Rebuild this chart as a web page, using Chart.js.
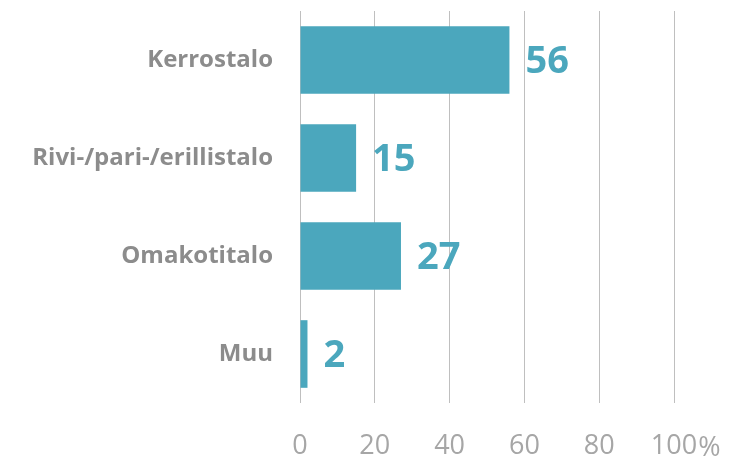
<!DOCTYPE html>
<html>
<head>
<meta charset="utf-8">
<script src="https://cdn.jsdelivr.net/npm/chart.js@4"></script>
<style>
    html, body { margin: 0; padding: 0; background: #fff; }
    #wrap { width: 730px; height: 462px; }
</style>
</head>
<body>
<div id="wrap"><canvas id="grafico"></canvas></div>
<script>
const kategoriat = ['Kerrostalo', 'Rivi-/pari-/erillistalo', 'Omakotitalo', 'Muu'];
const osuudet = [56, 15, 27, 2];
const xTicks = [0, 20, 40, 60, 80, 100];

const sininen = '#4BA7BD';
const harmaa = '#8C8C8C';
const fontti = "'Open Sans'";

// arvot palkkien perään + "%" viimeisen tikin perään
const arvoPlugin = {
    id: 'arvot',
    afterDatasetsDraw(chart) {
        const ctx = chart.ctx;
        const meta = chart.getDatasetMeta(0);
        ctx.save();
        ctx.font = 'bold 38px ' + fontti;
        ctx.fillStyle = sininen;
        ctx.textBaseline = 'middle';
        ctx.textAlign = 'left';
        meta.data.forEach((bar, i) => {
            ctx.fillText(String(osuudet[i]), bar.x + 16, bar.y + 2);
        });

        const x = chart.scales.x;
        const viim = xTicks[xTicks.length - 1];
        ctx.font = '27px ' + fontti;
        ctx.fillStyle = '#A6A6A6';
        const w = ctx.measureText(String(viim)).width;
        const tickY = x.bottom - 59 + 27 + 27 * 0.68;
        ctx.fillText('%', x.getPixelForValue(viim) + w / 2 + 1, tickY);
        ctx.restore();
    }
};

new Chart(document.getElementById('grafico'), {
    type: 'bar',
    data: {
        labels: kategoriat,
        datasets: [{
            data: osuudet,
            backgroundColor: sininen,
            borderWidth: 0,
            categoryPercentage: 1,
            barPercentage: 0.69
        }]
    },
    options: {
        indexAxis: 'y',
        responsive: true,
        maintainAspectRatio: false,
        animation: false,
        layout: { padding: { top: 11, right: 56, left: 0, bottom: 0 } },
        plugins: {
            legend: { display: false },
            tooltip: { enabled: false }
        },
        scales: {
            x: {
                min: 0,
                max: 100,
                afterBuildTicks: (scale) => { scale.ticks = xTicks.map(v => ({ value: v })); },
                afterFit: (scale) => { scale.height = 59; scale.paddingLeft = 0; scale.paddingRight = 0; },
                grid: { color: '#BFBFBF', lineWidth: 1, drawTicks: false },
                border: { display: false },
                ticks: {
                    padding: 27,
                    color: '#A6A6A6',
                    font: { family: fontti, size: 27 },
                    callback: (v) => String(v)
                }
            },
            y: {
                afterFit: (scale) => { scale.width = 300; scale.paddingTop = 0; scale.paddingBottom = 0; },
                grid: { display: false, drawTicks: false },
                border: { display: false },
                ticks: {
                    padding: 27,
                    color: harmaa,
                    font: { family: fontti, size: 24, weight: 'bold' }
                }
            }
        }
    },
    plugins: [arvoPlugin]
});
</script>
</body>
</html>
